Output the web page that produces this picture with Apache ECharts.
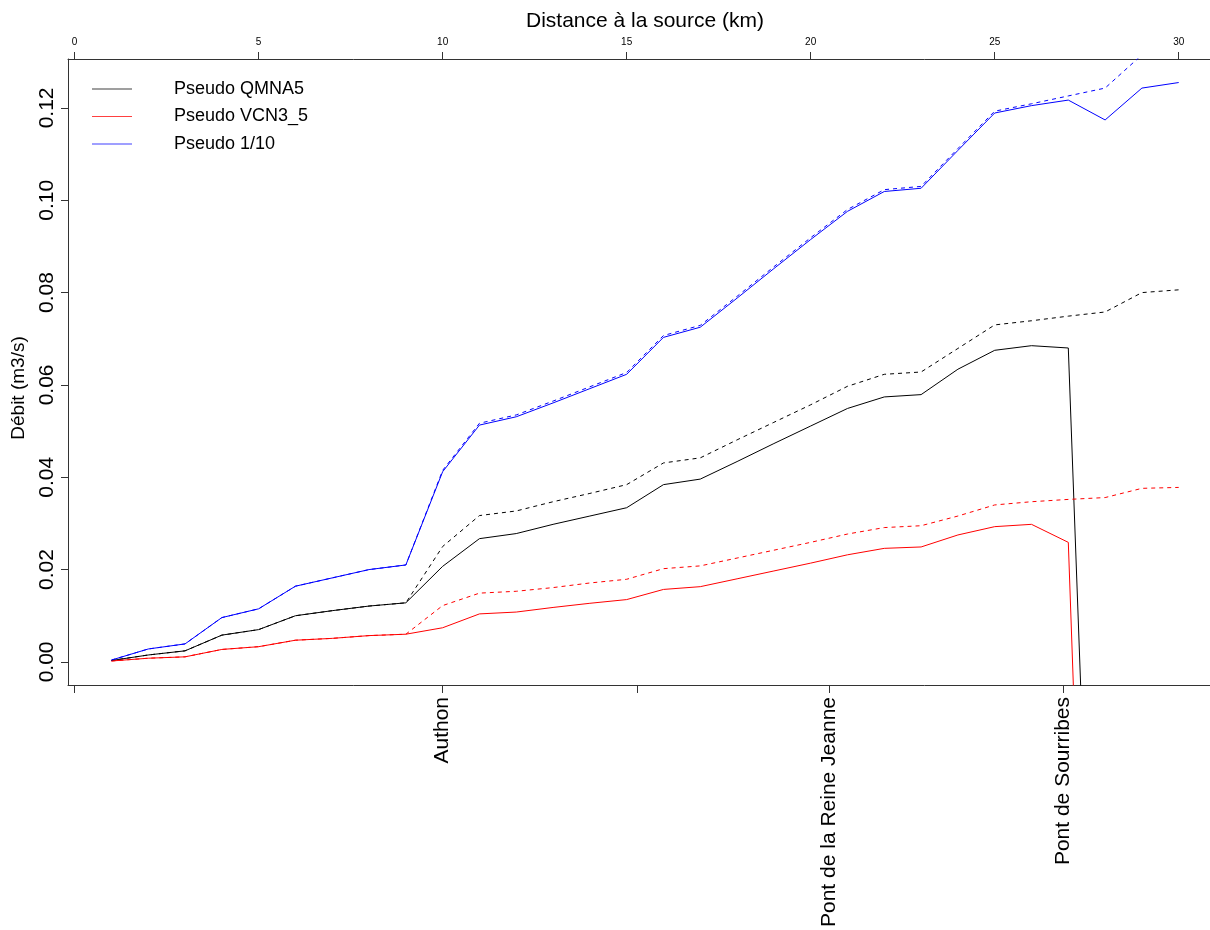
<!DOCTYPE html>
<html>
<head>
<meta charset="utf-8">
<script src="https://cdn.jsdelivr.net/npm/echarts@6/dist/echarts.min.js"></script>
<style>
html,body{margin:0;padding:0;background:#fff;}
#chart{width:1210px;height:930px;}
</style>
</head>
<body>
<div id="chart"></div>
<script>
// Distance à la source (km)
var distance = [1,2,3,4,5,6,7,8,9,10,11,12,13,14,15,16,17,18,19,20,21,22,23,24,25,26,27,28,29,30];

// Solid lines
var qmna5 = [0.0003,0.0015,0.0024,0.0058,0.0070,0.0100,0.0111,0.0121,0.0128,0.0207,
             0.0267,0.0278,0.0298,0.0316,0.0334,0.0384,0.0396,0.0434,0.0473,0.0511,
             0.0549,0.0574,0.0579,0.0634,0.0675,0.0685,0.0680,-0.150,null,null];
var vcn3_5 = [0.0002,0.0008,0.0011,0.0027,0.0033,0.0047,0.0051,0.0057,0.0060,0.0074,
              0.0104,0.0108,0.0118,0.0127,0.0135,0.0157,0.0163,0.0180,0.0197,0.0214,
              0.0232,0.0246,0.0249,0.0275,0.0293,0.0298,0.0259,-0.200,null,null];
var dixieme = [0.0004,0.0028,0.0039,0.0096,0.0115,0.0164,0.0182,0.0200,0.0210,0.0412,
               0.0513,0.0531,0.0561,0.0592,0.0623,0.0703,0.0725,0.0788,0.0852,0.0915,
               0.0976,0.1019,0.1026,0.1108,0.1189,0.1205,0.1217,0.1174,0.1243,0.1255];

// Dashed lines
var qmna5Dash = [0.0003,0.0015,0.0024,0.0058,0.0070,0.0100,0.0111,0.0121,0.0128,0.0250,
                 0.0317,0.0327,0.0347,0.0365,0.0384,0.0431,0.0442,0.0481,0.0519,0.0557,
                 0.0597,0.0623,0.0628,0.0679,0.0730,0.0739,0.0749,0.0758,0.0800,0.0806];
var vcn3_5Dash = [0.0002,0.0008,0.0011,0.0027,0.0033,0.0047,0.0051,0.0057,0.0060,0.0122,
                  0.0149,0.0153,0.0161,0.0171,0.0179,0.0202,0.0208,0.0225,0.0242,0.0259,
                  0.0277,0.0291,0.0295,0.0316,0.0340,0.0347,0.0352,0.0356,0.0376,0.0378];
var dixiemeDash = [0.0004,0.0028,0.0039,0.0096,0.0115,0.0164,0.0182,0.0200,0.0210,0.0415,
                   0.0517,0.0535,0.0565,0.0596,0.0627,0.0707,0.0729,0.0792,0.0856,0.0919,
                   0.0980,0.1023,0.1030,0.1112,0.1193,0.1209,0.1226,0.1243,0.1315,0.1325];

// Tick labels
var topTicks = [0,5,10,15,20,25,30];
var yTicks = [0,0.02,0.04,0.06,0.08,0.10,0.12];
var siteTicks = [0,10,15.3,20.5,26.85];
var siteNames = ['', 'Authon', '', 'Pont de la Reine Jeanne', 'Pont de Sourribes'];

var seriesNames = ['Pseudo QMNA5','Pseudo VCN3_5','Pseudo 1/10'];

function pairs(ys){ return distance.map(function(x,i){ return [x, ys[i]]; }); }

var FONT = 'Liberation Sans, Arial, Helvetica, sans-serif';
var chart = echarts.init(document.getElementById('chart'), null, {renderer:'canvas'});

function line(name, ys, color, dashed){
  return {
    name: name, type: 'line', data: pairs(ys), symbol: 'none', showSymbol: false,
    connectNulls: false, clip: true, animation: false, z: dashed ? 3 : 2,
    lineStyle: {color: color, width: 1, type: dashed ? [4,4] : 'solid'},
    itemStyle: {color: color},
    emphasis: {disabled: true}
  };
}

var legendColors = ['#000000','#ff0000','#0000ff'];

var option = {
  backgroundColor: '#fff',
  animation: false,
  textStyle: {fontFamily: FONT},
  grid: {left: 68, top: 59, right: 0, height: 627, containLabel: false},
  legend: {
    orient: 'vertical', left: 87, top: 74,
    data: seriesNames.map(function(n, i){ return {name: n, icon: 'rect', itemStyle: {color: legendColors[i], opacity: 0.75}}; }),
    itemWidth: 40, itemHeight: 1, itemGap: 7.5,
    textStyle: {fontSize: 18, color: '#000', fontFamily: FONT, padding: [0,0,0,37], lineHeight: 20},
    selectedMode: false
  },
  xAxis: [
    {
      type: 'value', position: 'top', min: -0.18, max: 30.85,
      name: 'Distance à la source (km)', nameLocation: 'middle', nameGap: 24,
      nameTextStyle: {fontSize: 21, color: '#000', fontFamily: FONT, padding: [0,0,0,12]},
      axisLine: {show: true, onZero: false, lineStyle: {color: '#333', width: 1}},
      axisTick: {show: true, inside: false, length: 7, customValues: topTicks, lineStyle: {color: '#333'}},
      axisLabel: {show: true, customValues: topTicks, fontSize: 10, color: '#000', margin: 12, fontFamily: FONT},
      splitLine: {show: false}
    },
    {
      type: 'value', position: 'bottom', min: -0.18, max: 30.85,
      axisLine: {show: true, onZero: false, lineStyle: {color: '#333', width: 1}},
      axisTick: {show: true, inside: false, length: 8, customValues: siteTicks, lineStyle: {color: '#333'}},
      axisLabel: {
        show: true, customValues: siteTicks, rotate: 90, fontSize: 21, color: '#000', margin: 12, fontFamily: FONT,
        formatter: function(v){
          for (var i = 0; i < siteTicks.length; i++) { if (Math.abs(siteTicks[i] - v) < 1e-6) return siteNames[i]; }
          return '';
        }
      },
      splitLine: {show: false}
    }
  ],
  yAxis: {
    type: 'value', min: -0.005, max: 0.1306,
    name: 'Débit (m3/s)', nameLocation: 'middle', nameGap: 40, nameRotate: 90,
    nameTextStyle: {fontSize: 19, color: '#000', fontFamily: FONT, padding: [0,32,0,0]},
    axisLine: {show: true, onZero: false, lineStyle: {color: '#333', width: 1}},
    axisTick: {show: true, inside: false, length: 7, customValues: yTicks, lineStyle: {color: '#333'}},
    axisLabel: {show: true, customValues: yTicks, rotate: 90, fontSize: 21, color: '#000', margin: 10, fontFamily: FONT,
      formatter: function(v){ return v.toFixed(2); }},
    splitLine: {show: false}
  },
  series: [
    line(seriesNames[0], qmna5, '#000000', false),
    line(seriesNames[1], vcn3_5, '#ff0000', false),
    line(seriesNames[2], dixieme, '#0000ff', false),
    line('QMNA5 pointillé', qmna5Dash, '#000000', true),
    line('VCN3_5 pointillé', vcn3_5Dash, '#ff0000', true),
    line('1/10 pointillé', dixiemeDash, '#0000ff', true)
  ]
};
option.series.forEach(function(s){ s.xAxisIndex = 1; });
chart.setOption(option);
</script>
</body>
</html>
